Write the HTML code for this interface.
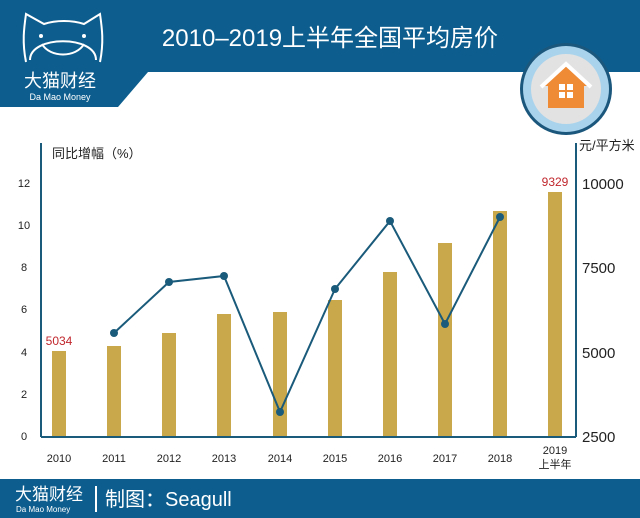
<!DOCTYPE html>
<html><head><meta charset="utf-8"><style>
body{margin:0;width:640px;height:518px;overflow:hidden;background:#fff;font-family:"Liberation Sans","Noto Sans CJK SC",sans-serif;}
</style></head><body>
<svg width="640" height="518" viewBox="0 0 640 518" xmlns="http://www.w3.org/2000/svg" style="position:absolute;left:0;top:0">
<polygon points="0,0 640,0 640,72 148,72 118,107 0,107" fill="#0d5e8e"/>
<text x="330" y="46" font-size="24" fill="#fff" text-anchor="middle" font-family="Liberation Sans,Noto Sans CJK SC,sans-serif">2010–2019上半年全国平均房价</text>
<!-- logo -->
<g stroke="#fff" stroke-width="2" fill="none">
<path d="M26,62 C22,42 24,28 26,14 L44,24 C56,20 72,20 84,24 L100,14 C102,28 104,42 100,62"/>
<path d="M30,60 C30,35 96,35 96,60"/>
<path d="M42,44 C50,58 76,58 84,44"/>
</g>
<circle cx="41" cy="36" r="2" fill="#fff"/><circle cx="84" cy="36" r="2" fill="#fff"/>
<text x="60" y="87" font-size="18" fill="#fff" text-anchor="middle">大猫财经</text>
<text x="60" y="100" font-size="9" fill="#fff" text-anchor="middle">Da Mao Money</text>
<!-- house icon -->
<circle cx="566" cy="89" r="46" fill="#1b567c"/>
<circle cx="566" cy="89" r="43" fill="#a9d3ec"/>
<circle cx="566" cy="89" r="35" fill="#e2e2e2"/>
<polygon points="566,66 544,86 548,86 548,108 584,108 584,86 588,86" fill="#ef8a35"/>
<polyline points="541,87 566,64 591,87" stroke="#fff" stroke-width="4" fill="none"/>
<rect x="559" y="84" width="14" height="14" fill="#fff"/>
<line x1="566" y1="84" x2="566" y2="98" stroke="#ef8a35" stroke-width="2"/>
<line x1="559" y1="91" x2="573" y2="91" stroke="#ef8a35" stroke-width="2"/>
<!-- axes -->
<g stroke="#1a5a7a" stroke-width="2">
<line x1="41" y1="143" x2="41" y2="437"/>
<line x1="576" y1="143" x2="576" y2="437"/>
<line x1="41" y1="437" x2="576" y2="437"/>
</g>
<text x="52" y="158" font-size="13" fill="#222">同比增幅（%）</text>
<text x="579" y="150" font-size="13" fill="#222">元/平方米</text>
<g font-size="11" fill="#222" text-anchor="middle">
<text x="24" y="187">12</text><text x="24" y="229">10</text><text x="24" y="271">8</text><text x="24" y="313">6</text><text x="24" y="356">4</text><text x="24" y="398">2</text><text x="24" y="440">0</text>
</g>
<g font-size="15" fill="#222">
<text x="582" y="189">10000</text><text x="582" y="273">7500</text><text x="582" y="358">5000</text><text x="582" y="442">2500</text>
</g>
<g fill="#c8a84a">
<rect x="52" y="351" width="14" height="85"/>
<rect x="107" y="346" width="14" height="90"/>
<rect x="162" y="333" width="14" height="103"/>
<rect x="217" y="314" width="14" height="122"/>
<rect x="273" y="312" width="14" height="124"/>
<rect x="328" y="300" width="14" height="136"/>
<rect x="383" y="272" width="14" height="164"/>
<rect x="438" y="243" width="14" height="193"/>
<rect x="493" y="211" width="14" height="225"/>
<rect x="548" y="192" width="14" height="244"/>
</g>
<text x="59" y="345" font-size="12" fill="#c0272d" text-anchor="middle">5034</text>
<text x="555" y="186" font-size="12" fill="#c0272d" text-anchor="middle">9329</text>
<polyline points="114,333 169,282 224,276 280,412 335,289 390,221 445,324 500,217" fill="none" stroke="#1a5a7a" stroke-width="2"/>
<g fill="#1a5a7a">
<circle cx="114" cy="333" r="4"/><circle cx="169" cy="282" r="4"/><circle cx="224" cy="276" r="4"/><circle cx="280" cy="412" r="4"/><circle cx="335" cy="289" r="4"/><circle cx="390" cy="221" r="4"/><circle cx="445" cy="324" r="4"/><circle cx="500" cy="217" r="4"/>
</g>
<g font-size="11" fill="#222" text-anchor="middle">
<text x="59" y="462">2010</text><text x="114" y="462">2011</text><text x="169" y="462">2012</text><text x="224" y="462">2013</text><text x="280" y="462">2014</text><text x="335" y="462">2015</text><text x="390" y="462">2016</text><text x="445" y="462">2017</text><text x="500" y="462">2018</text><text x="555" y="454">2019</text><text x="555" y="468">上半年</text>
</g>
<rect x="0" y="479" width="640" height="39" fill="#0d5e8e"/>
<text x="15" y="500" font-size="17" fill="#fff">大猫财经</text>
<text x="16" y="512" font-size="8" fill="#fff">Da Mao Money</text>
<line x1="96" y1="486" x2="96" y2="512" stroke="#fff" stroke-width="2"/>
<text x="105" y="506" font-size="20" fill="#fff">制图：Seagull</text>
</svg>
</body></html>
